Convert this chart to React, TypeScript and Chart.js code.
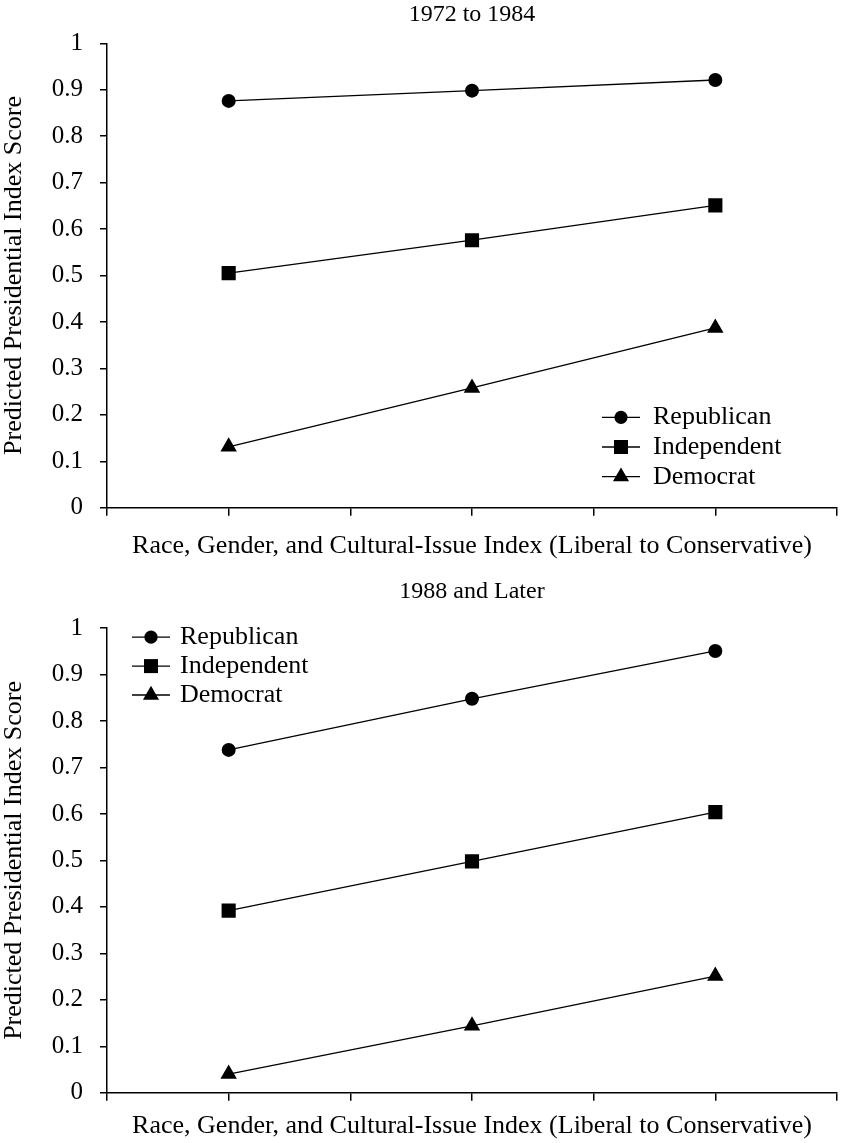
import React, { useEffect, useRef } from 'react';
import { Chart, registerables } from 'chart.js';

Chart.register(...registerables);

// ---- data ----
const seriesNames = ['Republican', 'Independent', 'Democrat'];
const seriesStyles = ['circle', 'rect', 'triangle'];
const xPositions = [1, 3, 5];

const earlyRepublican = [0.876, 0.898, 0.921];
const earlyIndependent = [0.505, 0.576, 0.651];
const earlyDemocrat = [0.131, 0.258, 0.387];

const laterRepublican = [0.738, 0.848, 0.951];
const laterIndependent = [0.392, 0.498, 0.604];
const laterDemocrat = [0.04, 0.144, 0.251];

const yTickLabels = ['0', '0.1', '0.2', '0.3', '0.4', '0.5', '0.6', '0.7', '0.8', '0.9', '1'];
const panelTitles = ['1972 to 1984', '1988 and Later'];
const xAxisTitle = 'Race, Gender, and Cultural-Issue Index (Liberal to Conservative)';
const yAxisTitle = 'Predicted Presidential Index Score';

const FONT = "'Liberation Serif', 'Times New Roman', serif";
const pointRadii: Record<string, number> = { circle: 7, rect: 10, triangle: 9.5 };

const lineLegend = {
  id: 'lineLegend',
  afterDraw(chart: any, _args: any, opts: any) {
    const { ctx, chartArea } = chart;
    const x0 = chartArea.left + opts.dx;
    const y0 = chartArea.top + opts.dy;
    chart.data.datasets.forEach((ds: any, i: number) => {
      const y = y0 + i * opts.rowGap;
      ctx.save();
      ctx.strokeStyle = '#000';
      ctx.fillStyle = '#000';
      ctx.lineWidth = 1.3;
      ctx.beginPath();
      ctx.moveTo(x0, y);
      ctx.lineTo(x0 + opts.lineLen, y);
      ctx.stroke();
      const cx = x0 + opts.lineLen / 2;
      ctx.beginPath();
      if (ds.pointStyle === 'circle') {
        ctx.arc(cx, y, 6.6, 0, Math.PI * 2);
      } else if (ds.pointStyle === 'rect') {
        ctx.rect(cx - 7, y - 7, 14, 14);
      } else {
        const r = 9.3;
        ctx.moveTo(cx, y - r);
        ctx.lineTo(cx + r * Math.sin((2 * Math.PI) / 3), y - r * Math.cos((2 * Math.PI) / 3));
        ctx.lineTo(cx + r * Math.sin((4 * Math.PI) / 3), y - r * Math.cos((4 * Math.PI) / 3));
        ctx.closePath();
      }
      ctx.fill();
      ctx.font = `26px ${FONT}`;
      ctx.textAlign = 'left';
      ctx.textBaseline = 'middle';
      ctx.fillText(ds.label, x0 + opts.lineLen + opts.textGap, y);
      ctx.restore();
    });
  },
};

type PanelProps = {
  title: string;
  series: number[][];
  height: number;
  titlePadTop: number;
  titlePadBottom: number;
  xAxisHeight: number;
  xTitlePadBottom: number;
  legend: { dx: number; dy: number; rowGap: number; lineLen: number; textGap: number };
};

function Panel(props: PanelProps) {
  const ref = useRef<HTMLCanvasElement>(null);
  useEffect(() => {
    if (!ref.current) return;
    const datasets = props.series.map((vals, i) => ({
      label: seriesNames[i],
      data: vals.map((v, j) => ({ x: xPositions[j], y: v })),
      borderColor: '#000',
      backgroundColor: '#000',
      borderWidth: 1.3,
      pointStyle: seriesStyles[i],
      pointRadius: pointRadii[seriesStyles[i]],
      pointBackgroundColor: '#000',
      pointBorderWidth: 0,
      tension: 0,
      fill: false,
    }));
    const chart = new Chart(ref.current, {
      type: 'line',
      data: { datasets } as any,
      plugins: [lineLegend as any],
      options: {
        animation: false,
        responsive: false,
        events: [],
        layout: { autoPadding: false, padding: { left: 0, right: 4, top: 0, bottom: 0 } },
        plugins: {
          legend: { display: false },
          tooltip: { enabled: false },
          title: {
            display: true,
            text: props.title,
            fullSize: false,
            color: '#000',
            font: { family: FONT, size: 24, weight: 'normal', lineHeight: 1.2 },
            padding: { top: props.titlePadTop, bottom: props.titlePadBottom },
          },
          lineLegend: props.legend,
        } as any,
        scales: {
          x: {
            type: 'linear',
            min: 0,
            max: 6,
            ticks: { display: false, stepSize: 1 },
            grid: { drawOnChartArea: false, drawTicks: true, tickLength: 8, color: '#000', lineWidth: 1.5 },
            border: { display: true, color: '#000', width: 1.5 },
            title: {
              display: true,
              text: xAxisTitle,
              color: '#000',
              font: { family: FONT, size: 26, lineHeight: 1.2 },
              padding: { top: 0, bottom: props.xTitlePadBottom },
            },
            afterFit: (s: any) => {
              s.height = props.xAxisHeight;
            },
          },
          y: {
            type: 'linear',
            min: 0,
            max: 1,
            ticks: {
              stepSize: 0.1,
              padding: 17,
              color: '#000',
              font: { family: FONT, size: 25 },
              callback: (_v: any, i: number) => yTickLabels[i],
            },
            grid: { drawOnChartArea: false, drawTicks: true, tickLength: 7, color: '#000', lineWidth: 1.5 },
            border: { display: true, color: '#000', width: 1.5 },
            title: {
              display: true,
              text: yAxisTitle,
              color: '#000',
              font: { family: FONT, size: 26, lineHeight: 1.0 },
              padding: { top: 1, bottom: 0 },
            },
            afterFit: (s: any) => {
              s.width = 107;
            },
          },
        },
      } as any,
    });
    return () => chart.destroy();
  }, []);
  return <canvas ref={ref} width={841} height={props.height} style={{ display: 'block', width: 841, height: props.height }} />;
}

export default function App() {
  return (
    <div style={{ position: 'absolute', left: 0, top: 0, width: 841, height: 1143, background: '#fff' }}>
      <Panel
        title={panelTitles[0]}
        series={[earlyRepublican, earlyIndependent, earlyDemocrat]}
        height={570}
        titlePadTop={0}
        titlePadBottom={14.5}
        xAxisHeight={62.3}
        xTitlePadBottom={8.4}
        legend={{ dx: 495, dy: 374, rowGap: 29.7, lineLen: 38, textGap: 13 }}
      />
      <Panel
        title={panelTitles[1]}
        series={[laterRepublican, laterIndependent, laterDemocrat]}
        height={573}
        titlePadTop={7.6}
        titlePadBottom={21.8}
        xAxisHeight={50.3}
        xTitlePadBottom={1.4}
        legend={{ dx: 25, dy: 9, rowGap: 28.9, lineLen: 38, textGap: 10 }}
      />
    </div>
  );
}
